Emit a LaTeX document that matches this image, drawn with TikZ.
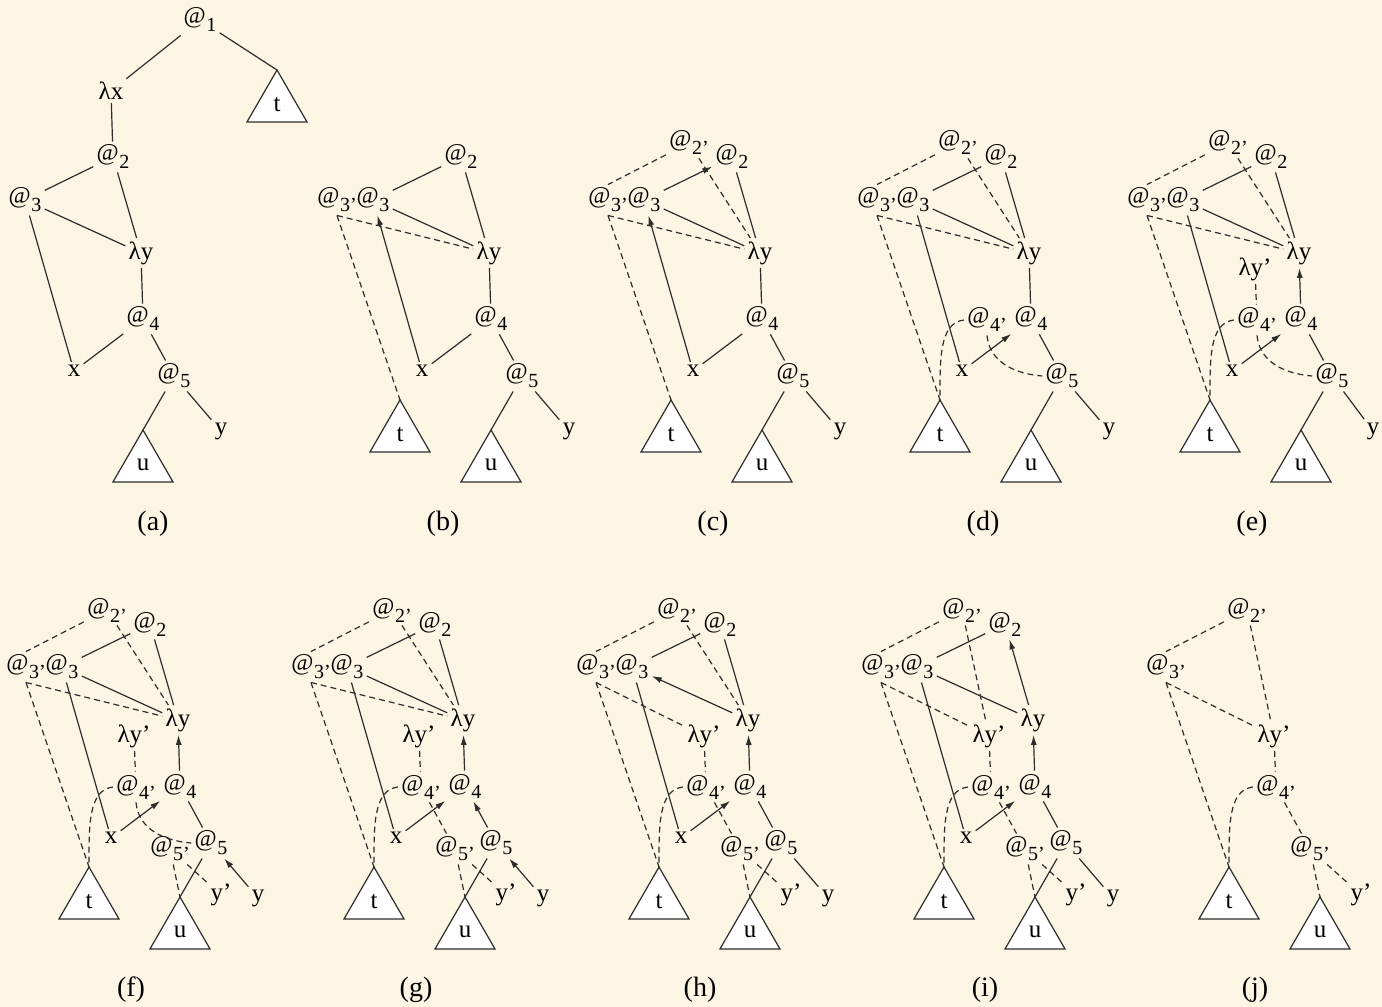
\documentclass[tikz,border=0pt]{standalone}
\usepackage{fontspec}
\setmainfont{Liberation Serif}
\usetikzlibrary{arrows.meta, shapes.geometric, calc}

\definecolor{paper}{RGB}{252,245,227}
\definecolor{ink}{RGB}{45,45,45}
\newcommand\ap[1]{{\fontsize{12}{12}\selectfont @}\kern0.3pt\raisebox{-4pt}{\fontsize{10}{10}\selectfont #1}}

\begin{document}
\begin{tikzpicture}[x=0.5pt, y=-0.5pt,
    every node/.style={font=\fontsize{12.5}{13}\selectfont, inner sep=1.5pt},
    tri/.style={regular polygon, regular polygon sides=3, draw=ink, fill=white,
      line width=0.6pt, inner sep=0pt, outer sep=0pt, minimum size=34.7pt},
    link/.style={draw=ink, line width=0.6pt},
    shared/.style={link, dash pattern=on 3pt off 2pt},
    ptr/.style={link, -{Latex[length=5pt,width=3pt]}},
    capt/.style={font=\fontsize{14}{16}\selectfont}]

  \useasboundingbox (0,0) rectangle (1382,1007);
  \fill[paper] (0,0) rectangle (1382,1007);

  % panel origins
  \foreach \p/\ox/\oy in {a/0/0, b/348/0, c/619/0, d/888/0, e/1158/0,
                           f/37/467, g/322/467, h/607/467, i/892/467, j/1177/467}
    \coordinate (o-\p) at (\ox,\oy);

  % original graph
  \foreach \p in {a,...,i} {
    \begin{scope}[shift={(o-\p)}]
      \node (\p-2)  at (113,157) {\ap{2}};
      \node (\p-3)  at (25,200)  {\ap{3}};
      \node (\p-ly) at (141,253) {λy};
      \node (\p-4)  at (143,319) {\ap{4}};
      \node (\p-x)  at (74,371)  {x};
      \node (\p-5)  at (174,376) {\ap{5}};
    \end{scope}
  }
  \foreach \p/\yx in {a/221, b/221, c/221, d/221, e/215, f/221, g/221, h/221, i/221}
    \node (\p-y) at ($(o-\p)+(\yx,431)$) {y};
  \foreach \p in {a,...,j}
    \node[tri, anchor=north] (\p-u) at ($(o-\p)+(143,430)$) {u};

  % copies
  \foreach \p in {b,...,j} {
    \begin{scope}[shift={(o-\p)}]
      \node (\p-3p) at (-11,200) {\ap{3'}};
      \node[tri, anchor=north] (\p-t) at (52,400) {t};
    \end{scope}
  }
  \foreach \p in {c,...,j}
    \node (\p-2p) at ($(o-\p)+(70,143)$) {\ap{2'}};
  \foreach \p in {d,...,j}
    \node (\p-4p) at ($(o-\p)+(99,320)$) {\ap{4'}};
  \foreach \p in {e,...,j}
    \node (\p-lyp) at ($(o-\p)+(97,269)$) {λy'};
  \foreach \p in {f,...,j} {
    \node (\p-5p) at ($(o-\p)+(133,382)$) {\ap{5'}};
    \node (\p-yp) at ($(o-\p)+(184,428)$) {y'};
  }

  % top of (a)
  \node (a-1) at (200,20) {\ap{1}};
  \node (a-lx) at (111,91) {λx};
  \node[tri, anchor=north] (a-t) at (277,70) {t};
  \draw[link] (a-1) -- (a-lx);
  \draw[link] (a-1) -- (a-t.north);
  \draw[link] (a-lx) -- (a-2);

  % graph edges
  \foreach \p in {a,b,d,e,f,g,h,i} \draw[link] (\p-2) -- (\p-3);
  \draw[ptr] (c-3) -- (c-2);
  \foreach \p in {a,...,h} \draw[link] (\p-2) -- (\p-ly);
  \draw[ptr] (i-ly) -- (i-2);
  \foreach \p in {a,b,c,d,e,f,g,i} \draw[link] (\p-3) -- (\p-ly);
  \draw[ptr] (h-ly) -- (h-3);
  \foreach \p in {a,b,c,d} \draw[link] (\p-ly) -- (\p-4);
  \foreach \p in {e,...,i} \draw[ptr] (\p-4) -- (\p-ly);
  \foreach \p in {a,b,c} \draw[link] (\p-4) -- (\p-x);
  \foreach \p in {d,...,i} \draw[ptr] (\p-x) -- (\p-4);
  \foreach \p in {a,b,c,d,e,f,h,i} \draw[link] (\p-4) -- (\p-5);
  \draw[ptr] (g-5) -- (g-4);
  \foreach \p in {a,...,i} \draw[link] (\p-5) -- (\p-u.north);
  \foreach \p in {a,b,c,d,e,h,i} \draw[link] (\p-5) -- (\p-y);
  \foreach \p in {f,g} \draw[ptr] (\p-y) -- (\p-5);
  \foreach \p in {a,d,e,f,g,h,i} \draw[link] (\p-3) -- (\p-x);
  \foreach \p in {b,c} \draw[ptr] (\p-x) -- (\p-3);

  % copy edges
  \foreach \p in {b,...,j} \draw[shared] (\p-3p.south) -- (\p-t.north);
  \foreach \p in {b,...,g} \draw[shared] (\p-3p.south) -- (\p-ly);
  \foreach \p in {h,i,j} \draw[shared] (\p-3p.south) -- (\p-lyp);
  \foreach \p in {c,...,j} \draw[shared] (\p-2p) -- (\p-3p.north);
  \foreach \p in {c,...,h} \draw[shared] (\p-2p) -- (\p-ly);
  \foreach \p in {i,j} \draw[shared] (\p-2p) -- (\p-lyp);
  \foreach \p in {d,...,j}
    \draw[shared] (\p-4p.west) .. controls +(-25,3) and +(0,-40) .. (\p-t.north);
  \foreach \p in {d,e,f}
    \draw[shared] (\p-4p.south) .. controls +(2,22) and +(-35,-3) .. (\p-5.west);
  \foreach \p in {g,...,j} \draw[shared] (\p-4p) -- (\p-5p);
  \foreach \p in {e,...,j} \draw[shared] (\p-lyp) -- (\p-4p);
  \foreach \p in {f,...,j} {
    \draw[shared] (\p-5p) -- (\p-u.north);
    \draw[shared] (\p-5p) -- (\p-yp);
  }

  % captions
  \foreach \c/\cx/\cy in {a/153/524, b/443/524, c/713/524, d/983/524, e/1252/524,
                           f/131/990, g/416/990, h/700/990, i/985/990, j/1255/990}
    \node[capt] (cap-\c) at (\cx,\cy) {(\c)};
\end{tikzpicture}
\end{document}
